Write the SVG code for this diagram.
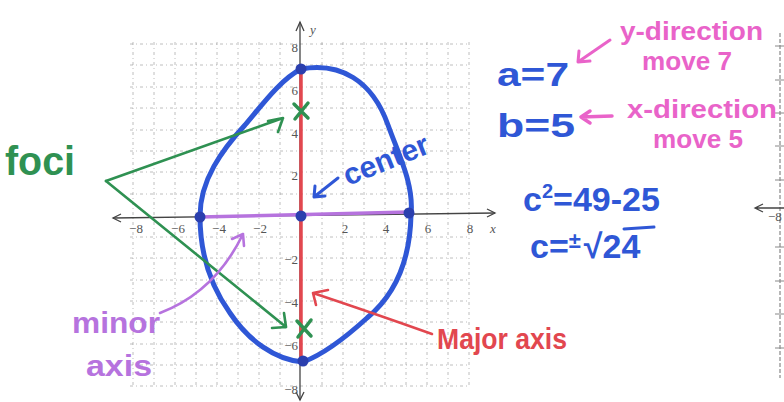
<svg xmlns="http://www.w3.org/2000/svg" width="784" height="402" viewBox="0 0 784 402">
<defs>
<style>
.grid line{stroke:#8a8a8a;stroke-width:1;stroke-dasharray:3 3 1 3;opacity:.55}
.axis{stroke:#444;stroke-width:1.3;fill:none}
.tick{font-family:"Liberation Serif",serif;font-size:13px;fill:#555}
.hand{font-family:"Liberation Sans",Arial,sans-serif;font-weight:bold}
.blue{fill:#2f57d6}
.pink{fill:#e963c9}
.red{fill:#e2474f}
.green{fill:#2f9152}
.purple{fill:#b673de}
.ink{fill:none;stroke-linecap:round;stroke-linejoin:round}
</style>
</defs>
<rect width="784" height="402" fill="#ffffff"/>

<g id="grid" class="grid">
<line x1="133" y1="42" x2="133" y2="387"/><line x1="154" y1="42" x2="154" y2="387"/>
<line x1="175" y1="42" x2="175" y2="387"/><line x1="196" y1="42" x2="196" y2="387"/>
<line x1="217" y1="42" x2="217" y2="387"/><line x1="238" y1="42" x2="238" y2="387"/>
<line x1="259" y1="42" x2="259" y2="387"/><line x1="280" y1="42" x2="280" y2="387"/>
<line x1="322" y1="42" x2="322" y2="387"/><line x1="343" y1="42" x2="343" y2="387"/>
<line x1="364" y1="42" x2="364" y2="387"/><line x1="385" y1="42" x2="385" y2="387"/>
<line x1="406" y1="42" x2="406" y2="387"/><line x1="427" y1="42" x2="427" y2="387"/>
<line x1="448" y1="42" x2="448" y2="387"/><line x1="469" y1="42" x2="469" y2="387"/>
<line x1="130" y1="44" x2="470" y2="44"/><line x1="130" y1="65" x2="470" y2="65"/>
<line x1="130" y1="87" x2="470" y2="87"/><line x1="130" y1="108" x2="470" y2="108"/>
<line x1="130" y1="130" x2="470" y2="130"/><line x1="130" y1="151" x2="470" y2="151"/>
<line x1="130" y1="172" x2="470" y2="172"/><line x1="130" y1="194" x2="470" y2="194"/>
<line x1="130" y1="237" x2="470" y2="237"/><line x1="130" y1="258" x2="470" y2="258"/>
<line x1="130" y1="280" x2="470" y2="280"/><line x1="130" y1="301" x2="470" y2="301"/>
<line x1="130" y1="322" x2="470" y2="322"/><line x1="130" y1="344" x2="470" y2="344"/>
<line x1="130" y1="365" x2="470" y2="365"/><line x1="130" y1="386" x2="470" y2="386"/>
</g>

<g id="axes">
<path class="axis" d="M113,218 L495,213"/>
<path class="axis" d="M121,214 L113,218 L121,222 M487,209 L495,213 L487,217"/>
<path class="axis" d="M300,22 L300,400"/>
<path class="axis" d="M296,31 L300,22 L304,31 M296,392 L300,400 L304,392"/>
<text class="tick" x="490" y="233" font-style="italic">x</text>
<text class="tick" x="310" y="34" font-style="italic">y</text>
<g class="tick" text-anchor="middle">
<text x="136" y="233">−8</text><text x="178" y="233">−6</text><text x="219" y="233">−4</text><text x="260" y="233">−2</text>
<text x="345" y="233">2</text><text x="386" y="233">4</text><text x="428" y="233">6</text><text x="470" y="233">8</text>
</g>
<g class="tick" text-anchor="end">
<text x="298" y="52">8</text><text x="298" y="95">6</text><text x="298" y="138">4</text><text x="298" y="180">2</text>
<text x="298" y="264">−2</text><text x="298" y="307">−4</text><text x="298" y="350">−6</text><text x="298" y="394">−8</text>
</g>
</g>

<g id="right-graph">
<line x1="780" y1="33" x2="780" y2="378" stroke="#888" stroke-width="1.2" stroke-dasharray="4 2"/>
<path d="M775,46H784 M775,80H784 M775,113H784 M775,146H784 M775,180H784 M775,247H784 M775,281H784 M775,314H784 M775,348H784" stroke="#888" stroke-width="1"/>
<path class="axis" d="M755,208 L784,208 M763,204 L755,208 L763,212"/>
<text class="tick" x="768" y="221">−8</text>
</g>

<g id="ellipse">
<path class="ink" stroke="#2f57d6" stroke-width="5" d="M301,69 C340,62 372,80 388,125 C400,158 414,185 411,215 C410,262 395,295 367,318 C345,338 322,355 303,362 C275,360 248,340 230,313 C212,288 200,255 200,216 C200,180 222,150 245,125 C262,105 280,80 301,69 Z"/>
</g>

<g id="major-axis">
<line x1="301" y1="69" x2="301" y2="361" stroke="#e2474f" stroke-width="3.5"/>
</g>
<g id="minor-axis">
<line x1="200" y1="217" x2="409" y2="212" stroke="#b673de" stroke-width="3.5"/>
</g>

<g id="vertices" fill="#2b3fae">
<circle cx="301" cy="69" r="5.5"/>
<circle cx="200" cy="217" r="5.5"/>
<circle cx="301" cy="216" r="5.5"/>
<circle cx="409" cy="213" r="5.5"/>
<circle cx="303" cy="361" r="5.5"/>
</g>

<g id="foci-marks" class="ink" stroke="#2f9152" stroke-width="3.5">
<path d="M294,104 L308,118 M308,103 L295,119"/>
<path d="M297,321 L311,336 M311,320 L298,337"/>
</g>

<g id="connectors" class="ink" stroke-width="2.6">
<g stroke="#2f9152">
<path d="M106,181 L283,118 M268,121 L283,118 L278,132"/>
<path d="M106,181 L286,327 M272,328 L286,327 L284,313"/>
</g>
<path stroke="#2f57d6" stroke-width="3" d="M338,178 L314,197 M315,186 L314,197 L325,196"/>
<path stroke="#b673de" d="M160,313 Q215,292 243,234 M232,239 L243,234 L244,246"/>
<path stroke="#e2474f" d="M432,334 Q370,312 313,293 M328,290 L313,293 L316,305"/>
<path stroke="#e963c9" stroke-width="3" d="M610,40 L578,62 M579,51 L578,62 L590,61"/>
<path stroke="#e963c9" stroke-width="3.5" d="M612,116 L581,117 M590,111 L581,117 L590,123"/>
</g>

<g id="label-foci"><text class="hand green" x="5" y="175" font-size="40" font-weight="normal" textLength="70" lengthAdjust="spacingAndGlyphs">foci</text></g>
<g id="label-center"><text class="hand blue" x="348" y="186" font-size="30" textLength="90" lengthAdjust="spacingAndGlyphs" transform="rotate(-22 348 186)">center</text></g>
<g id="label-minor"><text class="hand purple" x="72" y="333" font-size="30" textLength="88" lengthAdjust="spacingAndGlyphs">minor</text>
<text class="hand purple" x="86" y="376" font-size="30" textLength="66" lengthAdjust="spacingAndGlyphs">axis</text></g>
<g id="label-major"><text class="hand red" x="437" y="349" font-size="30" textLength="130" lengthAdjust="spacingAndGlyphs">Major axis</text></g>

<g id="equations" class="hand blue">
<text x="497" y="86" font-size="34" textLength="72" lengthAdjust="spacingAndGlyphs">a=7</text>
<text x="497" y="137" font-size="34" textLength="78" lengthAdjust="spacingAndGlyphs">b=5</text>
<text x="523" y="211" font-size="34">c<tspan dy="-13" font-size="20">2</tspan><tspan dy="13">=49-25</tspan></text>
<text x="530" y="258" font-size="34">c=<tspan dy="-10" font-size="22">±</tspan><tspan dy="10" dx="3">√24</tspan></text>
<line x1="624" y1="229" x2="654" y2="227" stroke="#2f57d6" stroke-width="3" stroke-linecap="round"/>
</g>

<g id="notes" class="hand pink">
<text x="620" y="40" font-size="26" textLength="143" lengthAdjust="spacingAndGlyphs">y-direction</text>
<text x="642" y="70" font-size="26" textLength="90" lengthAdjust="spacingAndGlyphs">move 7</text>
<text x="627" y="118" font-size="26" textLength="150" lengthAdjust="spacingAndGlyphs">x-direction</text>
<text x="653" y="148" font-size="26" textLength="90" lengthAdjust="spacingAndGlyphs">move 5</text>
</g>
</svg>
